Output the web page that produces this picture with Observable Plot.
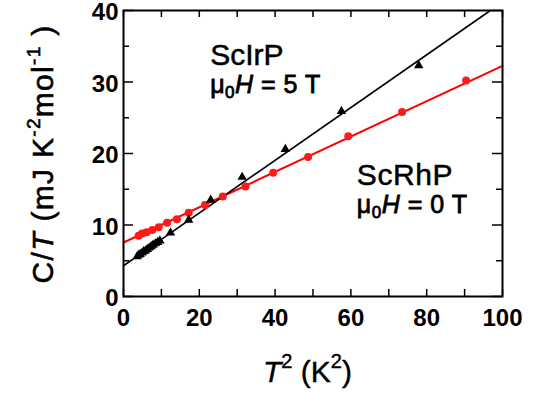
<!DOCTYPE html>
<html><head><meta charset="utf-8">
<script src="https://cdn.jsdelivr.net/npm/d3@7"></script>
<script src="https://cdn.jsdelivr.net/npm/@observablehq/plot@0.6"></script>
<style>html,body{margin:0;padding:0;background:#fff;} svg{display:block}</style>
</head><body><div id="chart"></div><script>
// ScIrP, mu0H = 5 T (black triangles)
const irT2 = [3.6, 4.0, 4.4, 4.9, 5.3, 5.8, 6.3, 6.8, 7.3, 7.8, 8.4, 9.0, 9.6, 12.4, 17.2, 23.0, 31.3, 42.7, 57.5, 77.9];
const irCT = [5.6, 5.8, 5.9, 6.1, 6.3, 6.4, 6.6, 6.8, 7.0, 7.2, 7.4, 7.6, 7.8, 8.9, 10.7, 13.5, 16.7, 20.6, 25.9, 32.3];
// ScRhP, mu0H = 0 T (red circles)
const rhT2 = [4.0, 4.9, 6.1, 7.6, 9.3, 11.5, 14.1, 17.2, 21.5, 26.2, 32.2, 39.5, 48.7, 59.3, 73.5, 90.4];
const rhCT = [8.5, 8.8, 9.0, 9.3, 9.7, 10.3, 10.8, 11.7, 12.8, 14.0, 15.4, 17.3, 19.5, 22.4, 25.8, 30.2];
// linear fits (end points)
const irFitT2 = [0, 96.8];
const irFitCT = [4.3, 40];
const rhFitT2 = [0, 100];
const rhFitCT = [7.55, 32.25];
// ticks
const xTicks = [0, 20, 40, 60, 80, 100];
const xMinor = [10, 30, 50, 70, 90];
const yTicks = [0, 10, 20, 30, 40];
const yMinor = [5, 15, 25, 35];

const W = 537, H = 397, mL = 123, mR = 35, mT = 10, mB = 101;
const fw = W - mL - mR, fh = H - mT - mB;
const pts = (xs, ys) => xs.map((x, i) => ({x, y: ys[i]}));
const FONT = "'Liberation Sans', Arial, Helvetica, sans-serif";

const allX = [...xTicks, ...xMinor];

const plot = Plot.plot({
  width: W, height: H,
  marginLeft: mL, marginRight: mR, marginTop: mT, marginBottom: mB,
  x: {domain: [0, 100]},
  y: {domain: [0, 40]},
  style: {fontFamily: FONT, background: "white", color: "black", overflow: "visible"},
  marks: [
    Plot.axisX(xTicks, {tickSize: 0, tickPadding: 12, fontSize: 24, fontWeight: "bold", label: null}),
    Plot.axisY(yTicks, {tickSize: 0, tickPadding: 5, dy: 2, fontSize: 24, fontWeight: "bold", label: null}),
    Plot.tickX(allX, {x: d => d, insetTop: fh - 7, stroke: "black", strokeWidth: 1.5}),
    Plot.tickX(allX, {x: d => d, insetBottom: fh - 7, stroke: "black", strokeWidth: 1.5}),
    Plot.tickY(yTicks, {y: d => d, insetRight: fw - 10, stroke: "black", strokeWidth: 1.5}),
    Plot.tickY(yMinor, {y: d => d, insetRight: fw - 6, stroke: "black", strokeWidth: 1.5}),
    Plot.tickY(yTicks, {y: d => d, insetLeft: fw - 10, stroke: "black", strokeWidth: 1.5}),
    Plot.tickY(yMinor, {y: d => d, insetLeft: fw - 6, stroke: "black", strokeWidth: 1.5}),
    Plot.line(pts(rhFitT2, rhFitCT), {x: "x", y: "y", stroke: "#ff0000", strokeWidth: 2}),
    Plot.line(pts(irFitT2, irFitCT), {x: "x", y: "y", stroke: "black", strokeWidth: 1.6}),
    Plot.dot(pts(rhT2, rhCT), {x: "x", y: "y", r: 4, fill: "#ff1a1a", stroke: "none"}),
    Plot.dot(pts(irT2, irCT), {x: "x", y: "y", r: 3.5, symbol: "triangle", fill: "black", stroke: "none"}),
    Plot.frame({stroke: "black", strokeWidth: 2})
  ]
});
document.getElementById("chart").appendChild(plot);

const sx = plot.scale("x"), sy = plot.scale("y");
const svg = d3.select(plot);

function addText(x, y, parts, size, opts = {}) {
  const t = svg.append("text")
    .attr("x", x).attr("y", y)
    .attr("font-family", FONT).attr("font-size", size)
    .attr("fill", "black")
    .attr("stroke", "black").attr("stroke-width", opts.sw ?? 0.5)
    .attr("text-anchor", opts.anchor || "start");
  if (opts.spacing) t.attr("letter-spacing", opts.spacing);
  if (opts.transform) t.attr("transform", opts.transform).attr("x", 0).attr("y", 0);
  for (const p of parts) {
    const s = t.append("tspan").text(p.t);
    if (p.italic) s.attr("font-style", "italic");
    if (p.size) s.attr("font-size", p.size);
    if (p.dy) s.attr("dy", p.dy);
  }
  return t;
}

// annotations
addText(sx.apply(23), sy.apply(32.3), [{t: "ScIrP"}], 30);
addText(sx.apply(23), sy.apply(28.4), [
  {t: "μ"}, {t: "0", size: 17, dy: 5}, {t: "H", italic: true, dy: -5}, {t: " = 5 T"}
], 25, {sw: 0.8, spacing: 0.5});
addText(sx.apply(61.7), sy.apply(15.5), [{t: "ScRhP"}], 30, {spacing: 0.6});
addText(sx.apply(61.7), sy.apply(11.6), [
  {t: "μ"}, {t: "0", size: 17, dy: 5}, {t: "H", italic: true, dy: -5}, {t: " = 0 T"}
], 25, {sw: 0.8, spacing: 0.5});

// x axis title
addText(mL + fw / 2 - 5, 382, [
  {t: "T", italic: true}, {t: "2", size: 20, dy: -14}, {t: " (K", dy: 14}, {t: "2", size: 20, dy: -14}, {t: ")", dy: 14}
], 30, {anchor: "middle", sw: 0.4});

// y axis title
addText(0, 0, [
  {t: "C/"}, {t: "T", italic: true}, {t: " (mJ K"}, {t: "-2", size: 19, dy: -13}, {t: "mol", dy: 13}, {t: "-1", size: 19, dy: -13}, {t: " )", dy: 13}
], 30, {anchor: "middle", spacing: 1.3, sw: 0.6, transform: `translate(53,${mT + fh / 2 + 1}) rotate(-90)`});
</script></body></html>
